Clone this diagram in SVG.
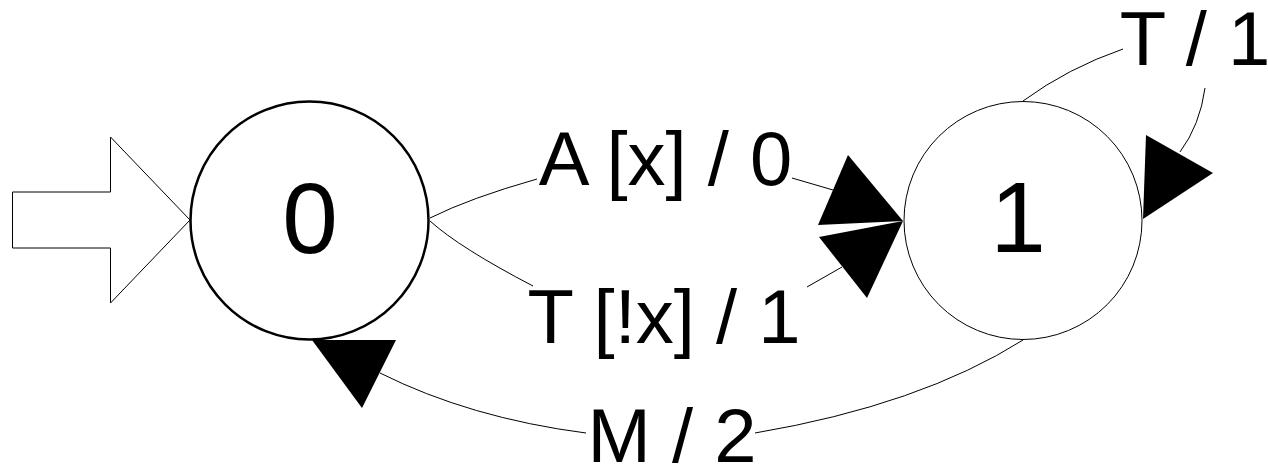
<svg xmlns="http://www.w3.org/2000/svg" width="1268" height="466" viewBox="0 0 1268 466">
<style>
.lbl{font-family:"Liberation Sans",Arial,sans-serif;font-size:76px;fill:#000;text-anchor:middle}
.st{font-family:"Liberation Sans",Arial,sans-serif;font-size:100px;fill:#000;text-anchor:middle}
.ln{fill:none;stroke:#000;stroke-width:1}
.ah{fill:#000;stroke:none}
</style>
<rect width="1268" height="466" fill="#fff"/>
<g id="initial">
<polygon points="12.5,192 110.5,192 110.5,137 190,220 110.5,303 110.5,248 12.5,248" fill="#fff" stroke="#000" stroke-width="1"/>
</g>
<g id="node0">
<circle cx="309.5" cy="220.5" r="119" fill="#fff" stroke="#000" stroke-width="2.5"/>
<text class="st" x="310" y="253">0</text>
</g>
<g id="node1">
<circle cx="1023" cy="220.5" r="119" fill="#fff" stroke="#000" stroke-width="1"/>
<text class="st" x="1018" y="252">1</text>
</g>
<g id="connectors">
<path class="ln" d="M430,218 Q470,198 537,179"/>
<path class="ln" d="M792,178 L833,190"/>
<polygon class="ah" points="848,155 903,221 818,225"/>
<path class="ln" d="M430,221 Q460,248 533,286"/>
<path class="ln" d="M807,287 L842,267"/>
<polygon class="ah" points="819,237 903,221 867,298"/>
<path class="ln" d="M1023,101 Q1068,68 1123,49"/>
<path class="ln" d="M1205,88 Q1200,125 1180,152"/>
<polygon class="ah" points="1146,135 1213,173 1143,219"/>
<path class="ln" d="M1023,340 Q920,405 755,433"/>
<path class="ln" d="M586,433 Q470,418 380,373"/>
<polygon class="ah" points="312,340 396,340 362,408"/>
<text class="lbl" x="665.5" y="185">A [x] / 0</text>
<text class="lbl" x="664" y="343">T [!x] / 1</text>
<text class="lbl" x="672" y="462">M / 2</text>
<text class="lbl" x="1195" y="65">T / 1</text>
</g>
</svg>
